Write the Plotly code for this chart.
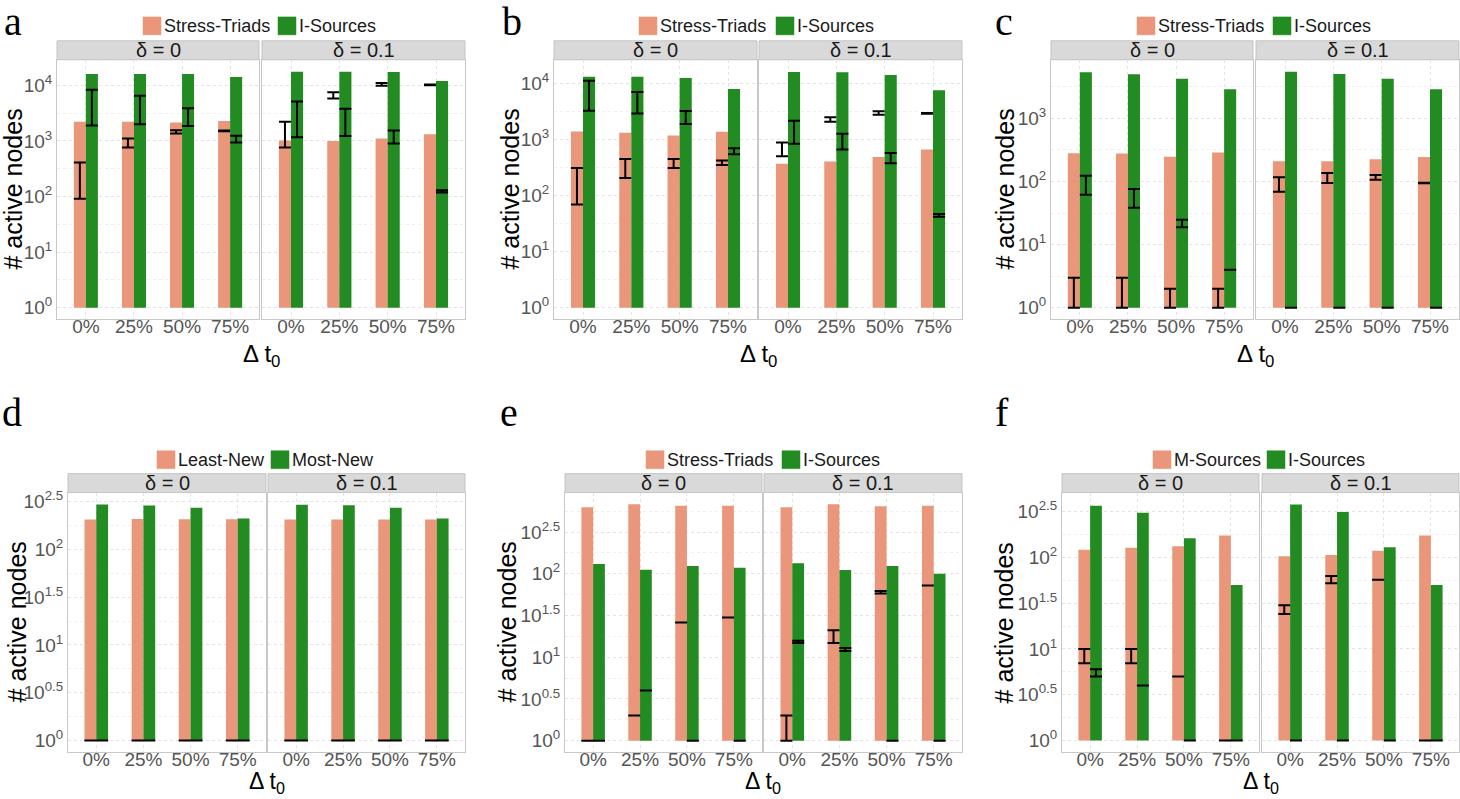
import plotly.graph_objects as go

W, H = 1460, 799

CATEGORIES = ["0%", "25%", "50%", "75%"]
FACETS = ["δ = 0", "δ = 0.1"]
LETTERS = ["a", "b", "c", "d", "e", "f"]
X_TITLE = "Δ t<sub>0</sub>"
Y_TITLE = "# active nodes"

# ---------------- panel a ----------------
A_NAMES = ["Stress-Triads", "I-Sources"]
A_BAR1 = [[2200, 2200, 2140, 2290], [1020, 1000, 1100, 1320]]
A_BAR2 = [[15900, 15900, 15900, 14100], [17600, 17600, 17300, 12000]]
A_ERR1_LO = [[91, 765, 1360, 1490], [765, 5760, 9850, 10000]]
A_ERR1_HI = [[407, 1110, 1560, 1540], [2200, 7500, 11000, 10300]]
A_ERR2_LO = [[1900, 2000, 1850, 940], [1160, 1220, 900, 118]]
A_ERR2_HI = [[8350, 6500, 3870, 1240], [5100, 3800, 1540, 130]]
A_TICK_EXP = [0, 1, 2, 3, 4]

# ---------------- panel b ----------------
B_NAMES = ["Stress-Triads", "I-Sources"]
B_BAR1 = [[1400, 1330, 1190, 1380], [372, 410, 490, 665]]
B_BAR2 = [[13300, 13300, 12600, 8040], [16100, 15900, 14300, 7600]]
B_ERR1_LO = [[70, 207, 313, 355], [505, 2090, 2790, 2900]]
B_ERR1_HI = [[313, 452, 452, 427], [895, 2520, 3220, 3000]]
B_ERR2_LO = [[3300, 2930, 1900, 550], [845, 670, 378, 42]]
B_ERR2_HI = [[11300, 7100, 3250, 700], [2170, 1275, 577, 47]]
B_TICK_EXP = [0, 1, 2, 3, 4]

# ---------------- panel c ----------------
C_NAMES = ["Stress-Triads", "I-Sources"]
C_BAR1 = [[280, 278, 248, 288], [210, 210, 225, 245]]
C_BAR2 = [[5400, 5020, 4270, 2900], [5500, 5070, 4270, 2900]]
C_ERR1_LO = [[1, 1, 1, 1], [69, 95, 107, 94]]
C_ERR1_HI = [[3, 3, 2, 2], [117, 137, 127, 96]]
C_ERR2_LO = [[62, 38.5, 18.8, 4], [1, 1, 1, 1]]
C_ERR2_HI = [[124, 76, 24.8, 4], [1, 1, 1, 1]]
C_TICK_EXP = [0, 1, 2, 3]

# ---------------- panel d ----------------
D_NAMES = ["Least-New", "Most-New"]
D_BAR1 = [[205, 208, 207, 207], [205, 205, 205, 205]]
D_BAR2 = [[294, 287, 272, 210], [292, 290, 272, 210]]
D_ERR1_LO = [[1, 1, 1, 1], [1, 1, 1, 1]]
D_ERR1_HI = [[1, 1, 1, 1], [1, 1, 1, 1]]
D_ERR2_LO = [[1, 1, 1, 1], [1, 1, 1, 1]]
D_ERR2_HI = [[1, 1, 1, 1], [1, 1, 1, 1]]
D_TICK_EXP = [0, 0.5, 1, 1.5, 2, 2.5]

# ---------------- panel e ----------------
E_NAMES = ["Stress-Triads", "I-Sources"]
E_BAR1 = [[627, 680, 656, 656], [627, 680, 647, 656]]
E_BAR2 = [[131, 112, 124, 118], [134, 111, 124, 100]]
E_ERR1_LO = [[1, 2, 26, 30], [1, 14.8, 58, 72.6]]
E_ERR1_HI = [[1, 2, 26, 30], [2, 21, 62, 72.6]]
E_ERR2_LO = [[1, 4, 1, 1], [14.8, 11.9, 1, 1]]
E_ERR2_HI = [[1, 4, 1, 1], [15.8, 12.9, 1, 1]]
E_TICK_EXP = [0, 0.5, 1, 1.5, 2, 2.5]

# ---------------- panel f ----------------
F_NAMES = ["M-Sources", "I-Sources"]
F_BAR1 = [[121, 127, 132, 173], [102.5, 106, 118, 173]]
F_BAR2 = [[365, 306, 161, 50], [377, 313, 128.5, 50]]
F_ERR1_LO = [[7, 7, 5, 1], [24, 52, 57, 1]]
F_ERR1_HI = [[10, 10, 5, 1], [30, 62.7, 57, 1]]
F_ERR2_LO = [[5, 4, 1, 1], [1, 1, 1, 1]]
F_ERR2_HI = [[6, 4, 1, 1], [1, 1, 1, 1]]
F_TICK_EXP = [0, 0.5, 1, 1.5, 2, 2.5]

PINK = "#E9967A"
GREEN = "#228B22"
SANS = "Liberation Sans, Arial, sans-serif"
SERIF = "Liberation Serif, Times New Roman, serif"
TICK_COLOR = "#555555"
BORDER = "#C8C8C8"
GRID = "#E4E4E4"
GRID_MINOR = "#EFEFEF"

# layout geometry (pixels)
ROWS = [
    dict(plot=(56, 317), strip=(37, 56), legend_y=22, letter_y=18, xtitle_y=353, xtitle_size=24),
    dict(plot=(491, 752), strip=(472, 491), legend_y=458, letter_y=411, xtitle_y=782, xtitle_size=23),
]
PANELS = [
    dict(names=A_NAMES, bar1=A_BAR1, bar2=A_BAR2, e1lo=A_ERR1_LO, e1hi=A_ERR1_HI,
         e2lo=A_ERR2_LO, e2hi=A_ERR2_HI, ticks=A_TICK_EXP, yrange=(-0.21, 4.46),
         row=0, fx=[(57, 259), (262, 465)], legend=(143, 278), letter_x=2, ytitle_x=13),
    dict(names=B_NAMES, bar1=B_BAR1, bar2=B_BAR2, e1lo=B_ERR1_LO, e1hi=B_ERR1_HI,
         e2lo=B_ERR2_LO, e2hi=B_ERR2_HI, ticks=B_TICK_EXP, yrange=(-0.207, 4.427),
         row=0, fx=[(554, 757), (759, 962)], legend=(639, 776), letter_x=500, ytitle_x=510),
    dict(names=C_NAMES, bar1=C_BAR1, bar2=C_BAR2, e1lo=C_ERR1_LO, e1hi=C_ERR1_HI,
         e2lo=C_ERR2_LO, e2hi=C_ERR2_HI, ticks=C_TICK_EXP, yrange=(-0.184, 3.93),
         row=0, fx=[(1051, 1253), (1256, 1459)], legend=(1137, 1273), letter_x=993, ytitle_x=1005),
    dict(names=D_NAMES, bar1=D_BAR1, bar2=D_BAR2, e1lo=D_ERR1_LO, e1hi=D_ERR1_HI,
         e2lo=D_ERR2_LO, e2hi=D_ERR2_HI, ticks=D_TICK_EXP, yrange=(-0.1215, 2.594),
         row=1, fx=[(68, 266), (268, 465)], legend=(157, 271), letter_x=0, ytitle_x=17),
    dict(names=E_NAMES, bar1=E_BAR1, bar2=E_BAR2, e1lo=E_ERR1_LO, e1hi=E_ERR1_HI,
         e2lo=E_ERR2_LO, e2hi=E_ERR2_HI, ticks=E_TICK_EXP, yrange=(-0.139, 2.974),
         row=1, fx=[(565, 762), (764, 962)], legend=(646, 782), letter_x=498, ytitle_x=507),
    dict(names=F_NAMES, bar1=F_BAR1, bar2=F_BAR2, e1lo=F_ERR1_LO, e1hi=F_ERR1_HI,
         e2lo=F_ERR2_LO, e2hi=F_ERR2_HI, ticks=F_TICK_EXP, yrange=(-0.127, 2.707),
         row=1, fx=[(1062, 1259), (1262, 1459)], legend=(1153, 1267), letter_x=993, ytitle_x=1004),
]


def px_x(v):
    return v / W


def px_y(v):
    return 1 - v / H


def exp_label(e):
    s = f"{e:g}"
    return f"10<sup>{s}</sup>"


fig = go.Figure()
shapes, annotations = [], []
axes = {}
xs = list(range(len(CATEGORIES)))

for k, P in enumerate(PANELS):
    row = ROWS[P["row"]]
    step = 1.0 if P["ticks"][1] - P["ticks"][0] == 1 else 0.5
    minor_exp = [e + step / 2 for e in P["ticks"]]
    for f in range(2):
        n = 2 * k + f + 1
        xa = "x" if n == 1 else f"x{n}"
        ya = "y" if n == 1 else f"y{n}"
        # bars (drawn from 10^0 upwards)
        fig.add_trace(go.Bar(
            x=xs, y=[v - 1 for v in P["bar1"][f]], base=1, offset=-0.25, width=0.25,
            marker=dict(color=PINK, line=dict(width=0)), name=P["names"][0],
            xaxis=xa, yaxis=ya, showlegend=False, hoverinfo="skip"))
        fig.add_trace(go.Bar(
            x=xs, y=[v - 1 for v in P["bar2"][f]], base=1, offset=0.0, width=0.25,
            marker=dict(color=GREEN, line=dict(width=0)), name=P["names"][1],
            xaxis=xa, yaxis=ya, showlegend=False, hoverinfo="skip"))
        # error bars
        for lo, hi, dx in ((P["e1lo"][f], P["e1hi"][f], -0.125), (P["e2lo"][f], P["e2hi"][f], 0.125)):
            fig.add_trace(go.Scatter(
                x=[i + dx for i in xs], y=lo, mode="markers",
                marker=dict(size=1, color="rgba(0,0,0,0)"),
                error_y=dict(type="data", symmetric=False,
                             array=[h - l for h, l in zip(hi, lo)],
                             arrayminus=[0] * len(lo),
                             color="black", thickness=2, width=6),
                xaxis=xa, yaxis=ya, showlegend=False, hoverinfo="skip"))

        x0, x1 = P["fx"][f]
        axes["xaxis" + ("" if n == 1 else str(n))] = dict(
            domain=[px_x(x0), px_x(x1)], anchor=ya, range=[-0.6, 3.6],
            tickmode="array", tickvals=xs, ticktext=CATEGORIES, ticks="",
            ticklabelstandoff=-10,
            tickfont=dict(family=SANS, size=19, color=TICK_COLOR),
            showgrid=True, gridcolor=GRID, griddash="dot", gridwidth=1,
            zeroline=False, showline=True, mirror=True, linecolor=BORDER, linewidth=1,
            fixedrange=True)
        axes["yaxis" + ("" if n == 1 else str(n))] = dict(
            domain=[px_y(row["plot"][1]), px_y(row["plot"][0])], anchor=xa,
            type="log", range=list(P["yrange"]),
            tickmode="array", tickvals=[10 ** e for e in P["ticks"]],
            ticktext=[exp_label(e) for e in P["ticks"]], ticks="",
            showticklabels=(f == 0),
            tickfont=dict(family=SANS, size=19, color=TICK_COLOR),
            showgrid=True, gridcolor=GRID, griddash="dot", gridwidth=1,
            minor=dict(tickmode="array", tickvals=[10 ** e for e in minor_exp],
                       showgrid=True, gridcolor=GRID_MINOR, griddash="dot", ticks=""),
            zeroline=False, showline=True, mirror=True, linecolor=BORDER, linewidth=1,
            fixedrange=True)

        # facet strip
        s0, s1 = row["strip"]
        shapes.append(dict(type="rect", xref="paper", yref="paper",
                           x0=px_x(x0), x1=px_x(x1), y0=px_y(s1), y1=px_y(s0),
                           fillcolor="#D9D9D9", line=dict(color="#C4C4C4", width=1), layer="below"))
        annotations.append(dict(text=FACETS[f], xref="paper", yref="paper",
                                x=px_x((x0 + x1) / 2), y=px_y((s0 + s1) / 2),
                                xanchor="center", yanchor="middle", showarrow=False,
                                font=dict(family=SANS, size=20, color="#1A1A1A")))

    # legend (manual)
    ly = row["legend_y"]
    for name, left, col in ((P["names"][0], P["legend"][0], PINK), (P["names"][1], P["legend"][1], GREEN)):
        shapes.append(dict(type="rect", xref="paper", yref="paper",
                           x0=px_x(left), x1=px_x(left + 18), y0=px_y(ly + 9), y1=px_y(ly - 9),
                           fillcolor=col, line=dict(color=col, width=0.5)))
        annotations.append(dict(text=name, xref="paper", yref="paper",
                                x=px_x(left + 19), y=px_y(ly), xanchor="left", yanchor="middle",
                                showarrow=False, font=dict(family=SANS, size=18, color="#1A1A1A")))

    # axis titles
    cx = (P["fx"][0][0] + P["fx"][1][1]) / 2
    annotations.append(dict(text=X_TITLE, xref="paper", yref="paper",
                            x=px_x(cx), y=px_y(row["xtitle_y"]), xanchor="center", yanchor="middle",
                            showarrow=False, borderpad=0,
                            font=dict(family=SANS, size=row["xtitle_size"], color="black")))
    cy = (row["plot"][0] + row["plot"][1]) / 2
    annotations.append(dict(text=Y_TITLE, xref="paper", yref="paper", textangle=-90,
                            x=px_x(P["ytitle_x"]), y=px_y(cy), xanchor="center", yanchor="middle",
                            showarrow=False, font=dict(family=SANS, size=25, color="black")))
    # panel letter
    annotations.append(dict(text=LETTERS[k], xref="paper", yref="paper",
                            x=px_x(P["letter_x"]), y=px_y(row["letter_y"]),
                            xanchor="left", yanchor="middle", showarrow=False,
                            font=dict(family=SERIF, size=40, color="black")))

fig.update_layout(
    width=W, height=H, autosize=False,
    margin=dict(l=0, r=0, t=0, b=0),
    paper_bgcolor="white", plot_bgcolor="white",
    barmode="overlay", showlegend=False,
    shapes=shapes, annotations=annotations,
    **axes,
)

fig.write_html("out.html", config={"displayModeBar": False},
               post_script="document.body.style.margin='0';")
